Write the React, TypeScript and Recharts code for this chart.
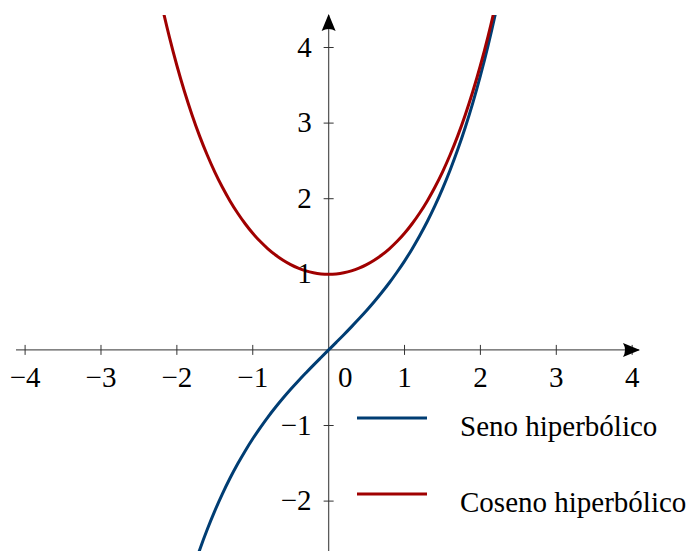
import React from 'react';
import { LineChart, Line, XAxis, YAxis, ReferenceLine, ReferenceDot, Legend } from 'recharts';

// x samples
const xValues = [
  -2.3, -2.2, -2.1, -2.0, -1.9, -1.8, -1.7, -1.6, -1.5, -1.4, -1.3, -1.2, -1.1, -1.0,
  -0.9, -0.8, -0.7, -0.6, -0.5, -0.4, -0.3, -0.2, -0.1, 0.0,
  0.1, 0.2, 0.3, 0.4, 0.5, 0.6, 0.7, 0.8, 0.9, 1.0, 1.1, 1.2, 1.3, 1.4, 1.5, 1.6,
  1.7, 1.8, 1.9, 2.0, 2.1, 2.2, 2.3,
];
// Seno hiperbólico
const senoValues = [
  -4.937, -4.457, -4.022, -3.627, -3.268, -2.942, -2.646, -2.376, -2.129, -1.904, -1.698, -1.510, -1.336, -1.175,
  -1.027, -0.888, -0.759, -0.637, -0.521, -0.411, -0.305, -0.201, -0.100, 0.0,
  0.100, 0.201, 0.305, 0.411, 0.521, 0.637, 0.759, 0.888, 1.027, 1.175, 1.336, 1.510, 1.698, 1.904, 2.129, 2.376,
  2.646, 2.942, 3.268, 3.627, 4.022, 4.457, 4.937,
];
// Coseno hiperbólico
const cosenoValues = [
  5.037, 4.568, 4.144, 3.762, 3.418, 3.108, 2.828, 2.578, 2.352, 2.151, 1.971, 1.811, 1.669, 1.543,
  1.433, 1.337, 1.255, 1.186, 1.128, 1.081, 1.045, 1.020, 1.005, 1.0,
  1.005, 1.020, 1.045, 1.081, 1.128, 1.186, 1.255, 1.337, 1.433, 1.543, 1.669, 1.811, 1.971, 2.151, 2.352, 2.578,
  2.828, 3.108, 3.418, 3.762, 4.144, 4.568, 5.037,
];

const seriesNames = ['Seno hiperbólico', 'Coseno hiperbólico'];
const seriesKeys = ['seno', 'coseno'];
const seriesColors = ['#003d73', '#a00000'];

const xTicks = [-4, -3, -2, -1, 1, 2, 3, 4];
const xTickLabels = ['−4', '−3', '−2', '−1', '1', '2', '3', '4'];
const yTicks = [-2, -1, 1, 2, 3, 4];
const yTickLabels = ['−2', '−1', '1', '2', '3', '4'];
const zeroLabel = '0';

const X_MIN = -4.12;
const X_MAX = 4.09;
const Y_MIN = -2.66;
const Y_MAX = 4.43;
const TICK_HALF = 0.066;

const data = xValues.map((x, i) => ({ x, seno: senoValues[i], coseno: cosenoValues[i] }));

const FONT = "'Liberation Serif', 'Times New Roman', serif";
const FS = 29;
const AXIS_COLOR = '#5a5a5a';

const renderLegend = (props: any) => {
  const payload: any[] = props.payload || [];
  return (
    <svg width={333} height={130} style={{ display: 'block', overflow: 'visible' }}>
      {seriesNames.map((name, i) => {
        const item = payload.find((p) => p.value === name);
        const color = (item && item.color) || seriesColors[i];
        return (
          <g key={name}>
            <line x1={0} x2={70} y1={18 + 76 * i} y2={18 + 76 * i} stroke={color} strokeWidth={3} />
            <text x={103} y={36 + 76 * i} fontSize={FS} fontFamily={FONT} fill="#000">
              {name}
            </text>
          </g>
        );
      })}
    </svg>
  );
};

export default function App() {
  return (
    <div style={{ position: 'absolute', left: 0, top: 0, width: 690, height: 551, background: '#fff' }}>
      <LineChart
        width={690}
        height={551}
        data={data}
        margin={{ top: 15, right: 51, bottom: 0, left: 16 }}
      >
        <XAxis type="number" dataKey="x" domain={[X_MIN, X_MAX]} allowDataOverflow hide />
        <YAxis type="number" domain={[Y_MIN, Y_MAX]} allowDataOverflow hide />

        <ReferenceLine y={0} stroke={AXIS_COLOR} strokeWidth={1.3} ifOverflow="visible" />
        <ReferenceLine x={0} stroke={AXIS_COLOR} strokeWidth={1.3} ifOverflow="visible" />

        {xTicks.map((t) => (
          <ReferenceLine
            key={'xt' + t}
            segment={[{ x: t, y: -TICK_HALF }, { x: t, y: TICK_HALF }]}
            stroke="#333"
            strokeWidth={1}
            ifOverflow="visible"
          />
        ))}
        {yTicks.map((t) => (
          <ReferenceLine
            key={'yt' + t}
            segment={[{ x: -TICK_HALF, y: t }, { x: TICK_HALF, y: t }]}
            stroke="#333"
            strokeWidth={1}
            ifOverflow="visible"
          />
        ))}

        {xTicks.map((t, i) => (
          <ReferenceDot
            key={'xl' + t}
            x={t}
            y={0}
            ifOverflow="visible"
            shape={(p: any) => (
              <text x={p.cx} y={p.cy + 37} textAnchor="middle" fontSize={FS} fontFamily={FONT} fill="#000">
                {xTickLabels[i]}
              </text>
            )}
          />
        ))}
        <ReferenceDot
          x={0}
          y={0}
          ifOverflow="visible"
          shape={(p: any) => (
            <text x={p.cx + 16.5} y={p.cy + 37} textAnchor="middle" fontSize={FS} fontFamily={FONT} fill="#000">
              {zeroLabel}
            </text>
          )}
        />
        {yTicks.map((t, i) => (
          <ReferenceDot
            key={'yl' + t}
            x={0}
            y={t}
            ifOverflow="visible"
            shape={(p: any) => (
              <text x={p.cx - 17} y={p.cy + 9} textAnchor="end" fontSize={FS} fontFamily={FONT} fill="#000">
                {yTickLabels[i]}
              </text>
            )}
          />
        ))}

        <ReferenceDot
          x={X_MAX}
          y={0}
          ifOverflow="visible"
          shape={(p: any) => (
            <path d={`M${p.cx + 1},${p.cy} L${p.cx - 16},${p.cy - 7} Q${p.cx - 12},${p.cy} ${p.cx - 16},${p.cy + 7} Z`} fill="#000" />
          )}
        />
        <ReferenceDot
          x={0}
          y={Y_MAX}
          ifOverflow="visible"
          shape={(p: any) => (
            <path d={`M${p.cx},${p.cy - 1} L${p.cx - 7},${p.cy + 16} Q${p.cx},${p.cy + 12} ${p.cx + 7},${p.cy + 16} Z`} fill="#000" />
          )}
        />

        {seriesKeys.map((k, i) => (
          <Line
            key={k}
            type="monotone"
            dataKey={k}
            name={seriesNames[i]}
            stroke={seriesColors[i]}
            strokeWidth={3}
            dot={false}
            activeDot={false}
            isAnimationActive={false}
          />
        ))}

        <Legend
          layout="vertical"
          align="center"
          verticalAlign="middle"
          wrapperStyle={{ left: 357, top: 400, width: 333, height: 130 }}
          content={renderLegend}
        />
      </LineChart>
    </div>
  );
}
